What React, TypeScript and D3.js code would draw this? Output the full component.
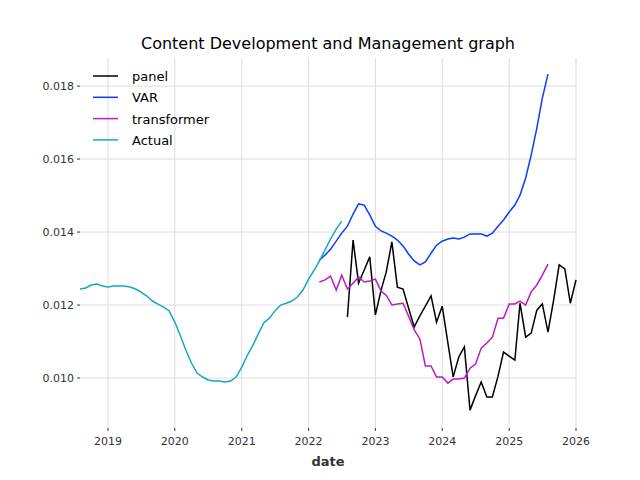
import * as d3 from 'd3'

const actualStart = [2018, 7]
const actual = [
  0.012438, 0.012466, 0.012548, 0.012575, 0.01252,
  0.012493, 0.01252, 0.01252, 0.01252, 0.012493, 0.012438, 0.012356, 0.012247, 0.01211, 0.012027, 0.011945, 0.011836,
  0.011534, 0.011151, 0.010767, 0.010411, 0.010137, 0.010027, 0.009945, 0.009918, 0.009918, 0.00989, 0.009918, 0.010027,
  0.0103, 0.01063, 0.01088, 0.01121, 0.01151, 0.01164, 0.01184, 0.012, 0.01205, 0.01211, 0.01222, 0.01241,
  0.01271, 0.01296, 0.01321, 0.01351, 0.01381, 0.01408, 0.0143,
]
const varStart = [2022, 2]
const varSeries = [
  0.01323, 0.01337, 0.01353, 0.01375, 0.01397, 0.01416, 0.01449, 0.01477, 0.01474, 0.01447,
  0.01416, 0.01403, 0.01397, 0.01389, 0.01378, 0.01362, 0.0134, 0.01321, 0.0131, 0.01318, 0.01342, 0.01364,
  0.01375, 0.01381, 0.01384, 0.01381, 0.01386, 0.01395, 0.01395, 0.01395, 0.01389, 0.01397, 0.01416, 0.01433,
  0.01455, 0.01474, 0.01501, 0.01548, 0.01611, 0.01685, 0.01767, 0.01833,
]
const panelStart = [2022, 7]
const panel = [
  0.01167, 0.01378, 0.0126, 0.01296, 0.01332,
  0.01173, 0.01241, 0.0129, 0.01373, 0.01249, 0.01244, 0.01192, 0.0114, 0.0117, 0.01197, 0.01225, 0.01153,
  0.01197, 0.01096, 0.01003, 0.01058, 0.01085, 0.00912, 0.00951, 0.00989, 0.00948, 0.00948, 0.01005, 0.01071,
  0.0106, 0.01049, 0.01205, 0.01112, 0.01123, 0.01186, 0.01203, 0.01126, 0.01214, 0.0131, 0.01299, 0.01205,
  0.01269,
]
const transformerStart = [2022, 2]
const transformer = [
  0.01263, 0.01269, 0.01279, 0.01241, 0.01282, 0.01244, 0.0126, 0.01277, 0.01263, 0.01266,
  0.01271, 0.01238, 0.01227, 0.012, 0.01203, 0.01205, 0.0117, 0.01132, 0.01107, 0.01033, 0.01033, 0.01003,
  0.01003, 0.00986, 0.00997, 0.00997, 0.01, 0.01027, 0.01038, 0.01082, 0.01096, 0.01112, 0.01164, 0.01164,
  0.01203, 0.01203, 0.01211, 0.012, 0.01236, 0.01255, 0.01282, 0.01312,
]
const yTicks = [0.01, 0.012, 0.014, 0.016, 0.018]
const xTickYears = [2019, 2020, 2021, 2022, 2023, 2024, 2025, 2026]

const toDates = (start: number[], vals: number[]) =>
  vals.map((v, i) => ({ d: new Date(start[0], start[1] + i, 1), v }))

const series = [
  { name: 'panel', color: '#000000', data: toDates(panelStart, panel) },
  { name: 'VAR', color: '#0a3cff', data: toDates(varStart, varSeries) },
  { name: 'transformer', color: '#bb1ac4', data: toDates(transformerStart, transformer) },
  { name: 'Actual', color: '#17a8bf', data: toDates(actualStart, actual) },
]

export default function App() {
  const width = 640
  const height = 480
  const m = { left: 80, right: 64, top: 58, bottom: 52 }
  const x = d3.scaleTime()
    .domain([new Date(2018, 7, 1), new Date(2026, 0, 1)])
    .range([m.left, width - m.right])
  const y = d3.scaleLinear().domain([0.00863, 0.01877]).range([height - m.bottom, m.top])
  const line = d3.line<{ d: Date; v: number }>().x(p => x(p.d)).y(p => y(p.v))
  const font = 'DejaVu Sans, sans-serif'

  return (
    <svg width={width} height={height} style={{ position: 'absolute', left: 0, top: 0 }}>
      <rect width={width} height={height} fill="white" />
      {xTickYears.map(t => (
        <g key={t}>
          <line x1={x(new Date(t, 0, 1))} x2={x(new Date(t, 0, 1))} y1={m.top} y2={height - m.bottom} stroke="#dddddd" />
          <line x1={x(new Date(t, 0, 1))} x2={x(new Date(t, 0, 1))} y1={height - m.bottom} y2={height - m.bottom + 3} stroke="#333" />
          <text x={x(new Date(t, 0, 1))} y={height - m.bottom + 17} fontSize={11} fontFamily={font} textAnchor="middle" fill="#333">{t}</text>
        </g>
      ))}
      {yTicks.map(t => (
        <g key={t}>
          <line x1={m.left} x2={width - m.right} y1={y(t)} y2={y(t)} stroke="#dddddd" />
          <line x1={m.left - 3} x2={m.left} y1={y(t)} y2={y(t)} stroke="#333" />
          <text x={m.left - 6} y={y(t) + 4} fontSize={11} fontFamily={font} textAnchor="end" fill="#333">{t.toFixed(3)}</text>
        </g>
      ))}
      {series.map(s => (
        <path key={s.name} d={line(s.data) ?? ''} fill="none" stroke={s.color} strokeWidth={1.5} />
      ))}
      <text x={(m.left + width - m.right) / 2} y={49} fontSize={16} fontFamily={font} textAnchor="middle">Content Development and Management graph</text>
      <text x={(m.left + width - m.right) / 2} y={466} fontSize={13} fontWeight="bold" fontFamily={font} textAnchor="middle" fill="#333">date</text>
      {series.map((s, i) => (
        <g key={s.name} transform={`translate(93, ${76 + i * 21.3})`}>
          <line x1={0} x2={25} y1={0} y2={0} stroke={s.color} strokeWidth={1.5} />
          <text x={39} y={5} fontSize={13} fontFamily={font}>{s.name}</text>
        </g>
      ))}
    </svg>
  )
}
